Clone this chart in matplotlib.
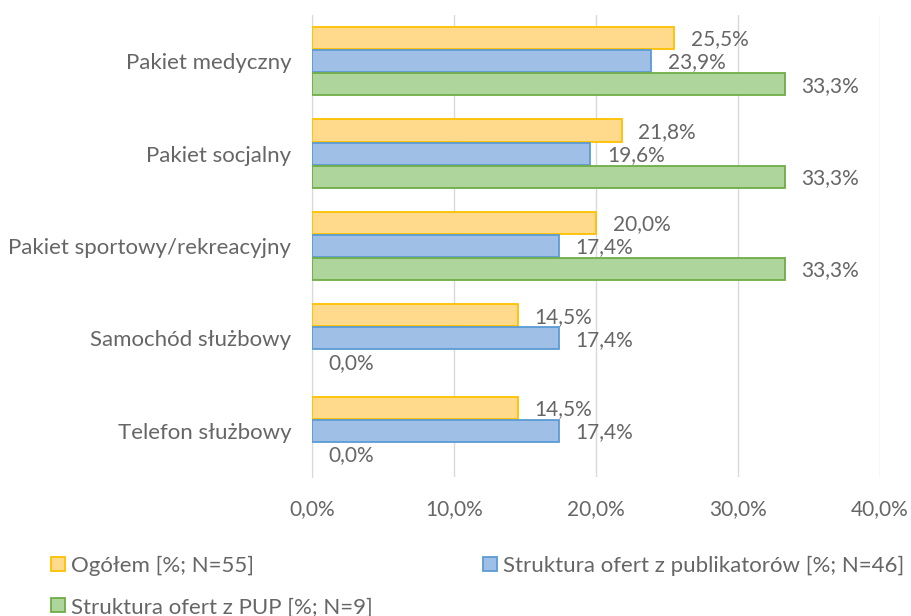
import numpy as np
import matplotlib
matplotlib.use('Agg')
import matplotlib.pyplot as plt
from matplotlib.patches import Patch

plt.rcParams['font.family'] = ['Lato', 'DejaVu Sans']

categories = ['Pakiet medyczny', 'Pakiet socjalny', 'Pakiet sportowy/rekreacyjny',
              'Samochód służbowy', 'Telefon służbowy']
ogolem = [25.5, 21.8, 20.0, 14.5, 14.5]
publikatory = [23.9, 19.6, 17.4, 17.4, 17.4]
pup = [33.3, 33.3, 33.3, 0.0, 0.0]
series_names = ['Ogółem [%; N=55]', 'Struktura ofert z publikatorów [%; N=46]',
                'Struktura ofert z PUP [%; N=9]']
x_ticks = [0, 10, 20, 30, 40]

fills = ['#FFD98C', '#A0BFE6', '#ADD59C']
edges = ['#FFC000', '#5B9BD5', '#70AD47']
gray = '#666666'

fig = plt.figure(figsize=(9.11, 6.16), dpi=100)
ax = fig.add_axes([312 / 911, 1 - 477 / 616, (880 - 312) / 911, (477 - 15) / 616])

y = np.arange(len(categories))
h = 0.24
offsets = [-0.25, 0.0, 0.25]
for vals, off, fc, ec in zip([ogolem, publikatory, pup], offsets, fills, edges):
    lws = [1.3 if v > 0 else 0 for v in vals]
    ax.barh(y + off, vals, height=h, color=fc, edgecolor=ec, linewidth=lws, zorder=3)
    for yi, v in zip(y, vals):
        txt = f'{v:.1f}%'.replace('.', ',')
        ax.annotate(txt, (v, yi + off), xytext=(12, -1), textcoords='offset points',
                    ha='left', va='center', fontsize=15, color=gray, zorder=4)

ax.set_xlim(0, 40)
ax.set_ylim(4.5, -0.5)
ax.set_xticks(x_ticks)
ax.set_xticklabels([f'{t:.1f}%'.replace('.', ',') for t in x_ticks], fontsize=15, color=gray)
ax.set_yticks(y)
ax.set_yticklabels(categories, fontsize=16, color=gray)
ax.tick_params(length=0)
ax.tick_params(axis='x', pad=16)
ax.tick_params(axis='y', pad=15)
ax.grid(axis='x', color='#D9D9D9', linewidth=1, zorder=0)
for s in ['top', 'right', 'bottom']:
    ax.spines[s].set_visible(False)
ax.spines['left'].set_color('#D9D9D9')

handles = [Patch(facecolor=fc, edgecolor=ec, linewidth=1.3) for fc, ec in zip(fills, edges)]
order = [0, 2, 1]
fig.legend([handles[i] for i in order], [series_names[i] for i in order],
           loc='upper left', bbox_to_anchor=(51 / 911, 1 - 556 / 616),
           ncol=2, frameon=False, fontsize=16, labelcolor=gray, handlelength=0.63,
           handleheight=0.6, handletextpad=0.25, columnspacing=5.0, labelspacing=0.95,
           borderpad=0, borderaxespad=0)

fig.savefig('out.png', dpi=100)
